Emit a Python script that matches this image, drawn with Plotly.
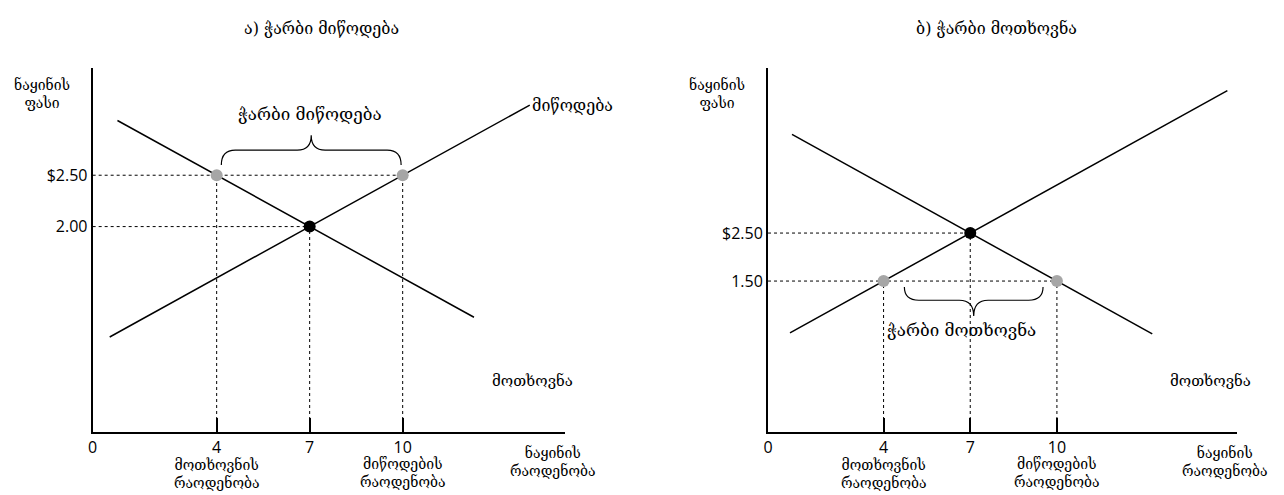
import plotly.graph_objects as go

# ---------------- data ----------------
# panel a) excess supply
a_title = "ა) ჭარბი მიწოდება"
a_demand_q = [0.8, 12.3]
a_demand_p = [3.033, 1.117]
a_supply_q = [0.55, 14.1]
a_supply_p = [0.925, 3.183]
a_eq_q, a_eq_p = 7, 2.00
a_price = 2.50
a_qd, a_qs = 4, 10
a_yticks = [2.50, 2.00]
a_yticktext = ["$2.50", "2.00"]

# panel b) excess demand
b_title = "ბ) ჭარბი მოთხოვნა"
b_demand_q = [0.83, 13.3]
b_demand_p = [4.557, 0.40]
b_supply_q = [0.76, 15.9]
b_supply_p = [0.42, 5.467]
b_eq_q, b_eq_p = 7, 2.50
b_price = 1.50
b_qd, b_qs = 10, 4
b_yticks = [2.50, 1.50]
b_yticktext = ["$2.50", "1.50"]

xticks = [0, 4, 7, 10]
xticktext = ["0", "4", "7", "10"]

y_label = "ნაყინის<br>ფასი"
x_label = "ნაყინის<br>რაოდენობა"
qd_label = "მოთხოვნის<br>რაოდენობა"
qs_label = "მიწოდების<br>რაოდენობა"
supply_name = "მიწოდება"
demand_name = "მოთხოვნა"
excess_supply = "ჭარბი მიწოდება"
excess_demand = "ჭარბი მოთხოვნა"

a_xrange = [0, 15.23]
a_yrange = [0, 3.544]
b_xrange = [0, 16.24]
b_yrange = [-1.646, 5.94]

GEO = "DejaVu Serif, DejaVu Sans, serif"
NUM = "Open Sans, Noto Sans, sans-serif"
GREY = "#a6a6a6"

fig = go.Figure()

def line(x, y, xa, ya, dash="solid", width=1.5):
    fig.add_trace(go.Scatter(x=x, y=y, xaxis=xa, yaxis=ya, mode="lines",
                             line=dict(color="black", width=width, dash=dash),
                             hoverinfo="skip", showlegend=False))

def dots(x, y, xa, ya, color):
    fig.add_trace(go.Scatter(x=x, y=y, xaxis=xa, yaxis=ya, mode="markers",
                             marker=dict(color=color, size=12, line=dict(width=0)),
                             hoverinfo="skip", showlegend=False))

# ---- panel a ----
line([0, a_qs], [a_price, a_price], "x", "y", "dot", 1)
line([0, a_eq_q], [a_eq_p, a_eq_p], "x", "y", "dot", 1)
for q, p in [(a_qd, a_price), (a_eq_q, a_eq_p), (a_qs, a_price)]:
    line([q, q], [a_yrange[0], p], "x", "y", "dot", 1)
line(a_demand_q, a_demand_p, "x", "y")
line(a_supply_q, a_supply_p, "x", "y")
dots([a_qd, a_qs], [a_price, a_price], "x", "y", GREY)
dots([a_eq_q], [a_eq_p], "x", "y", "black")

# ---- panel b ----
line([0, b_qd], [b_price, b_price], "x2", "y2", "dot", 1)
line([0, b_eq_q], [b_eq_p, b_eq_p], "x2", "y2", "dot", 1)
for q, p in [(b_qs, b_price), (b_eq_q, b_eq_p), (b_qd, b_price)]:
    line([q, q], [b_yrange[0], p], "x2", "y2", "dot", 1)
line(b_demand_q, b_demand_p, "x2", "y2")
line(b_supply_q, b_supply_p, "x2", "y2")
dots([b_qs, b_qd], [b_price, b_price], "x2", "y2", GREY)
dots([b_eq_q], [b_eq_p], "x2", "y2", "black")

# ---- braces ----
def brace_path(x1, x2, y_end, y_bar, y_peak, r):
    xc = (x1 + x2) / 2
    return (f"M {x1},{y_end} Q {x1},{y_bar} {x1 + r},{y_bar} "
            f"L {xc - r},{y_bar} Q {xc},{y_bar} {xc},{y_peak} "
            f"Q {xc},{y_bar} {xc + r},{y_bar} "
            f"L {x2 - r},{y_bar} Q {x2},{y_bar} {x2},{y_end}")

fig.add_shape(type="path", xref="x", yref="y",
              path=brace_path(a_qd + 0.15, a_qs - 0.05, a_price + 0.10,
                              a_price + 0.245, a_price + 0.39, 0.45),
              line=dict(color="black", width=1.2))
fig.add_shape(type="path", xref="x2", yref="y2",
              path=brace_path(b_qs + 0.72, b_qd - 0.48, b_price - 0.125,
                              b_price - 0.40, b_price - 0.73, 0.5),
              line=dict(color="black", width=1.2))

# ---- axes ----
axis_common = dict(showgrid=False, zeroline=False, showline=True,
                   linecolor="black", linewidth=2)
fig.update_layout(
    width=1284, height=495,
    margin=dict(l=0, r=0, t=0, b=0),
    paper_bgcolor="white", plot_bgcolor="white",
    xaxis=dict(domain=[88 / 1284, 562 / 1284], range=a_xrange, anchor="y",
               tickvals=xticks, ticktext=xticktext, ticks="inside", ticklen=14,
               tickwidth=1.5, tickcolor="black",
               tickfont=dict(family=NUM, size=16, color="black"), **axis_common),
    yaxis=dict(domain=[63 / 495, 427 / 495], range=a_yrange, anchor="x",
               tickvals=a_yticks, ticktext=a_yticktext, ticks="",
               tickfont=dict(family=NUM, size=16, color="black"), **axis_common),
    xaxis2=dict(domain=[766 / 1284, 1237 / 1284], range=b_xrange, anchor="y2",
                tickvals=xticks, ticktext=xticktext, ticks="inside", ticklen=14,
                tickwidth=1.5, tickcolor="black",
                tickfont=dict(family=NUM, size=16, color="black"), **axis_common),
    yaxis2=dict(domain=[63 / 495, 427 / 495], range=b_yrange, anchor="x2",
                tickvals=b_yticks, ticktext=b_yticktext, ticks="",
                tickfont=dict(family=NUM, size=16, color="black"), **axis_common),
)

def ann(text, x, y, xref, yref, size=14, xanchor="center", yanchor="middle", align="center"):
    fig.add_annotation(text=text, x=x, y=y, xref=xref, yref=yref, showarrow=False,
                       xanchor=xanchor, yanchor=yanchor, align=align,
                       font=dict(family=GEO, size=size, color="black"))

# titles
ann(a_title, 318 / 1284, 467 / 495, "paper", "paper", 16)
ann(b_title, 995 / 1284, 467 / 495, "paper", "paper", 16)
# y labels
ann(y_label, 37 / 1284, 402 / 495, "paper", "paper", 14)
ann(y_label, 715 / 1284, 402 / 495, "paper", "paper", 14)
# x labels
ann(x_label, 14.84, 53 / 495, "x", "paper", 14, yanchor="top")
ann(x_label, 15.83, 53 / 495, "x2", "paper", 14, yanchor="top")
ann(qd_label, a_qd, 41 / 495, "x", "paper", 14, yanchor="top")
ann(qs_label, a_qs, 41 / 495, "x", "paper", 14, yanchor="top")
ann(qd_label, b_qs, 41 / 495, "x2", "paper", 14, yanchor="top")
ann(qs_label, b_qd, 41 / 495, "x2", "paper", 14, yanchor="top")
# curve names
ann(supply_name, a_supply_q[1], a_supply_p[1], "x", "y", 16, xanchor="left")
ann(demand_name, 14.2, 0.5, "x", "y", 15)
ann(demand_name, 15.3, -0.58, "x2", "y2", 15)
# brace texts
ann(excess_supply, (a_qd + a_qs) / 2, a_price + 0.60, "x", "y", 17)
ann(excess_demand, 6.69, b_price - 1.02, "x2", "y2", 17)

fig.write_html("out.html", config={"displayModeBar": False},
               post_script="document.body.style.margin='0';")
